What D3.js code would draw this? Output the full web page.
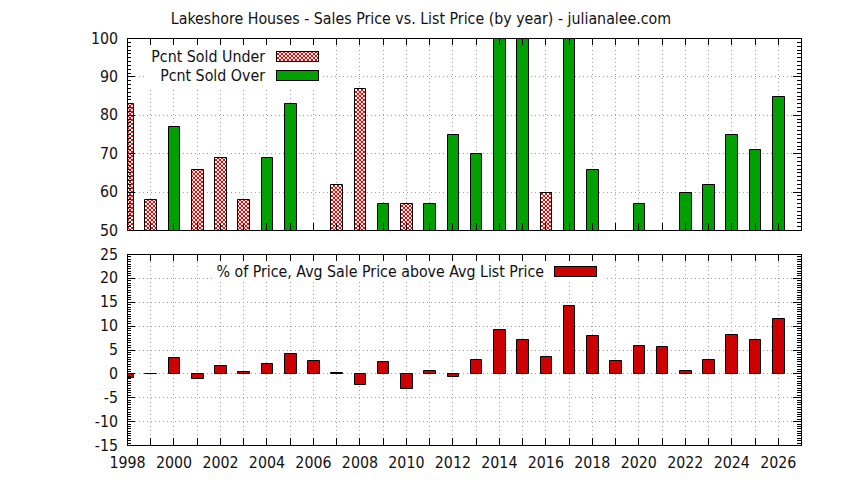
<!DOCTYPE html>
<html lang="en">
<head>
<meta charset="utf-8">
<title>Lakeshore Houses - Sales Price vs. List Price</title>
<script src="https://cdn.jsdelivr.net/npm/d3@7"></script>
<style>
  body { margin: 0; background: #fff; }
  text { font-family: "DejaVu Sans Condensed", "Liberation Sans", sans-serif; font-size: 15.8px; fill: #111; }
</style>
</head>
<body>
<script>
// data
var years = [1998, 1999, 2000, 2001, 2002, 2003, 2004, 2005, 2006, 2007,
             2008, 2009, 2010, 2011, 2012, 2013, 2014, 2015, 2016, 2017,
             2018, 2019, 2020, 2021, 2022, 2023, 2024, 2025, 2026];
var pctSoldUnder = [83, 58, null, 66, 69, 58, null, null, null, 62,
                    87, null, 57, null, null, null, null, null, 60, null,
                    null, null, null, null, null, null, null, null, null];
var pctSoldOver = [null, null, 77, null, null, null, 69, 83, null, null,
                   null, 57, null, 57, 75, 70, 100, 100, null, 100,
                   66, null, 57, null, 60, 62, 75, 71, 85];
var avgAbovePct = [-0.8, 0, 3.4, -1.0, 1.7, 0.4, 2.1, 4.2, 2.9, 0.2,
                   -2.3, 2.5, -3.1, 0.8, -0.6, 3.1, 9.2, 7.3, 3.6, 14.3,
                   8.0, 2.7, 5.9, 5.7, 0.8, 3.1, 8.2, 7.3, 11.7];
var topTicks = [50, 60, 70, 80, 90, 100];
var bottomTicks = [-15, -10, -5, 0, 5, 10, 15, 20, 25];
var titleText = "Lakeshore Houses - Sales Price vs. List Price (by year) - julianalee.com";
var underLabel = "Pcnt Sold Under";
var overLabel = "Pcnt Sold Over";
var avgLabel = "% of Price, Avg Sale Price above Avg List Price";

var w = 844, h = 480;
var left = 127, right = 801;
var top1 = 38, bot1 = 230;
var top2 = 254, bot2 = 445;

var green = "#00a000", red = "#cc0000";

var svg = d3.select("body").append("svg")
    .attr("width", w)
    .attr("height", h);

var defs = svg.append("defs");
var pat = defs.append("pattern")
    .attr("id", "hatch")
    .attr("patternUnits", "userSpaceOnUse")
    .attr("width", 4).attr("height", 4);
pat.append("rect").attr("width", 4).attr("height", 4).attr("fill", "#fff");
pat.append("path").attr("d", "M0,0L4,4M4,0L0,4")
    .attr("stroke", "#ff0000").attr("stroke-width", 1);

defs.append("clipPath").attr("id", "clip1").append("rect")
    .attr("x", left).attr("y", top1).attr("width", right - left).attr("height", bot1 - top1);
defs.append("clipPath").attr("id", "clip2").append("rect")
    .attr("x", left).attr("y", top2).attr("width", right - left).attr("height", bot2 - top2);

var xScale = d3.scaleLinear().domain([1998, 2027]).range([left, right]);
var y1 = d3.scaleLinear().domain([50, 100]).range([bot1, top1]);
var y2 = d3.scaleLinear().domain([-15, 25]).range([bot2, top2]);
var barW = (xScale(1999) - xScale(1998)) * 0.5;

function barPath(yr, ya, yb) {
    var x0 = Math.round(xScale(yr) - barW / 2) + 0.5;
    var x1 = Math.round(xScale(yr) + barW / 2) + 0.5;
    var a = Math.round(ya) + 0.5, b = Math.round(yb) + 0.5;
    return "M" + x0 + "," + a + "L" + x1 + "," + a + "L" + x1 + "," + b + "L" + x0 + "," + b + "Z";
}

function range(a, b, s) {
    var out = [];
    for (var v = a; v <= b + 1e-9; v += s) out.push(Math.round(v * 10) / 10);
    return out;
}

function grid(y, yTicks, t, b) {
    var g = svg.append("g")
        .attr("stroke", "#a0a0a0")
        .attr("stroke-dasharray", "1,3")
        .attr("shape-rendering", "crispEdges");
    g.selectAll(".vx").data(years.slice(1)).enter().append("line")
        .attr("x1", function(d) { return Math.round(xScale(d)) + 0.5; })
        .attr("x2", function(d) { return Math.round(xScale(d)) + 0.5; })
        .attr("y1", t).attr("y2", b);
    g.selectAll(".hy").data(yTicks.slice(1, -1)).enter().append("line")
        .attr("y1", function(d) { return Math.round(y(d)) + 0.5; })
        .attr("y2", function(d) { return Math.round(y(d)) + 0.5; })
        .attr("x1", left).attr("x2", right);
}

function frame(y, yTicks, minor, t, b, labelYears) {
    var g = svg.append("g").attr("shape-rendering", "crispEdges");
    g.append("g").attr("transform", "translate(" + left + ",0)")
        .call(d3.axisLeft(y).tickValues(yTicks).tickSizeInner(-8).tickSizeOuter(0)
            .tickPadding(9).tickFormat(function(d) { return String(d); }));
    g.append("g").attr("transform", "translate(" + left + ",0)")
        .call(d3.axisLeft(y).tickValues(minor).tickSizeInner(-4).tickSizeOuter(0).tickFormat(""));
    g.append("g").attr("transform", "translate(" + right + ",0)")
        .call(d3.axisRight(y).tickValues(yTicks).tickSizeInner(-8).tickSizeOuter(0).tickFormat(""));
    g.append("g").attr("transform", "translate(" + right + ",0)")
        .call(d3.axisRight(y).tickValues(minor).tickSizeInner(-4).tickSizeOuter(0).tickFormat(""));
    g.append("g").attr("transform", "translate(0," + t + ")")
        .call(d3.axisTop(xScale).tickValues(years).tickSizeInner(-7).tickSizeOuter(0).tickFormat(""));
    g.append("g").attr("transform", "translate(0," + b + ")")
        .call(d3.axisBottom(xScale).tickValues(years).tickSizeInner(-7).tickSizeOuter(0)
            .tickPadding(12)
            .tickFormat(function(d) { return labelYears && d % 2 === 0 ? String(d) : ""; }));
    g.selectAll(".domain").remove();
    g.selectAll(".tick line").attr("stroke", "#000");
    g.selectAll(".tick text").attr("fill", "#111").attr("font-size", null)
        .attr("font-family", null);
    g.append("rect").attr("x", left + 0.5).attr("y", t + 0.5)
        .attr("width", right - left).attr("height", b - t)
        .attr("fill", "none").attr("stroke", "#000");
}

// title
svg.append("text").attr("x", 421).attr("y", 24)
    .attr("text-anchor", "middle").text(titleText);

// ---------- top panel ----------
grid(y1, topTicks, top1, bot1);

var bars1 = svg.append("g").attr("clip-path", "url(#clip1)");
bars1.selectAll(".under").data(years.filter(function(d, i) { return pctSoldUnder[i] != null; }))
    .enter().append("path")
    .attr("d", function(d) { return barPath(d, y1(50), y1(pctSoldUnder[years.indexOf(d)])); })
    .attr("fill", "url(#hatch)").attr("stroke", "#000").attr("stroke-width", 1);
bars1.selectAll(".over").data(years.filter(function(d, i) { return pctSoldOver[i] != null; }))
    .enter().append("path")
    .attr("d", function(d) { return barPath(d, y1(50), y1(pctSoldOver[years.indexOf(d)])); })
    .attr("fill", green).attr("stroke", "#000").attr("stroke-width", 1);

// key, top panel
var key1 = svg.append("g");
var keyBg1 = key1.append("rect").attr("fill", "#fff");
var keyRows = [{label: underLabel, fill: "url(#hatch)"}, {label: overLabel, fill: green}];
var kt = key1.selectAll(".k").data(keyRows).enter().append("g");
kt.append("text").attr("x", 265).attr("y", function(d, i) { return 62 + i * 19; })
    .attr("text-anchor", "end").text(function(d) { return d.label; });
kt.append("rect").attr("x", 276.5).attr("y", function(d, i) { return 51.5 + i * 19; })
    .attr("width", 42).attr("height", 10)
    .attr("fill", function(d) { return d.fill; }).attr("stroke", "#000");
var kw1 = d3.max(kt.selectAll("text").nodes(), function(n) { return n.getComputedTextLength(); });
keyBg1.attr("x", 265 - kw1 - 6).attr("y", 45).attr("width", 322 - (265 - kw1 - 6)).attr("height", 42);

frame(y1, topTicks, range(50, 100, 1), top1, bot1, false);

// ---------- bottom panel ----------
grid(y2, bottomTicks, top2, bot2);

var bars2 = svg.append("g").attr("clip-path", "url(#clip2)");
bars2.selectAll("path").data(years).enter().append("path")
    .attr("d", function(d, i) { return barPath(d, y2(0), y2(avgAbovePct[i])); })
    .attr("fill", red).attr("stroke", "#000").attr("stroke-width", 1);

var key2 = svg.append("g");
var keyBg2 = key2.append("rect").attr("fill", "#fff");
var kt2 = key2.append("text").attr("x", 544).attr("y", 277)
    .attr("text-anchor", "end").text(avgLabel);
key2.append("rect").attr("x", 554.5).attr("y", 266.5).attr("width", 42).attr("height", 10)
    .attr("fill", red).attr("stroke", "#000");
var kw2 = kt2.node().getComputedTextLength();
keyBg2.attr("x", 544 - kw2 - 4).attr("y", 260).attr("width", 605 - (544 - kw2 - 4)).attr("height", 22);

frame(y2, bottomTicks, range(-15, 25, 0.5), top2, bot2, true);
</script>
</body>
</html>
